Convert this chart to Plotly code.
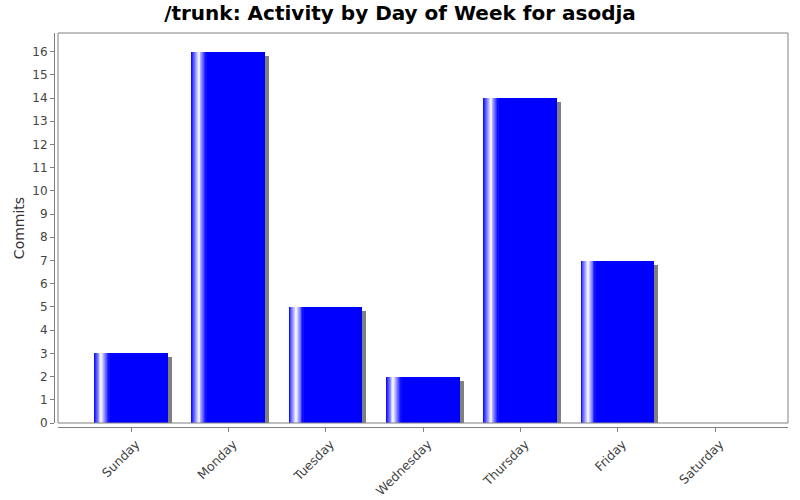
import plotly.graph_objects as go

days = ["Sunday", "Monday", "Tuesday", "Wednesday", "Thursday", "Friday", "Saturday"]
commits = [3, 16, 5, 2, 14, 7, 0]
y_ticks = list(range(0, 17))

# layout geometry (pixels)
W, H = 800, 500
ML, MR, MT, MB = 54, 12, 33, 73
GAP = 4                      # offset between axis lines and plot border
plot_w = W - ML - MR         # 734
plot_h = H - MT - MB         # 394
data_w = plot_w - GAP        # 730
data_h = plot_h - GAP        # 390

x_range = [-0.75, 6.75]
y_range = [0, 16.8]
px_per_x = data_w / (x_range[1] - x_range[0])
px_per_y = data_h / (y_range[1] - y_range[0])

BAR_W = 0.75
BLUE = (0, 0, 255)
shadow_dx = 4 / px_per_x
shadow_dy = 4 / px_per_y

fig = go.Figure()

# shadow
fig.add_trace(go.Bar(
    x=days, y=[max(v - shadow_dy, 0) for v in commits],
    width=BAR_W, offset=-BAR_W / 2 + shadow_dx,
    marker=dict(color="#808080", line=dict(width=0)),
    hoverinfo="skip", showlegend=False))

# main bar (solid)
fig.add_trace(go.Bar(
    x=days, y=commits, width=BAR_W, offset=-BAR_W / 2,
    marker=dict(color="rgb(0,0,255)", line=dict(width=0)),
    name="Commits", showlegend=False))

# gradient highlight stripes (blue -> white -> blue over first 20% of width)
n = 16
g_end = 0.2 * BAR_W
sw = g_end / n
for i in range(n):
    t = (i + 0.5) / n
    f = t / 0.5 if t < 0.5 else (1 - t) / 0.5
    r = int(round(BLUE[0] + (255 - BLUE[0]) * f))
    g = int(round(BLUE[1] + (255 - BLUE[1]) * f))
    fig.add_trace(go.Bar(
        x=days, y=commits, width=sw * 1.15, offset=-BAR_W / 2 + i * sw,
        marker=dict(color=f"rgb({r},{g},255)", line=dict(width=0)),
        hoverinfo="skip", showlegend=False))

fig.update_layout(
    width=W, height=H,
    margin=dict(l=ML, r=MR, t=MT, b=MB, pad=0, autoexpand=False),
    paper_bgcolor="white", plot_bgcolor="white",
    barmode="overlay", bargap=0,
    font=dict(family="DejaVu Sans", size=12, color="#444444"),
    title=dict(text="<b>/trunk: Activity by Day of Week for asodja</b>",
               x=0.5, xanchor="center", xref="container",
               y=1 - 13 / H, yanchor="middle", yref="container",
               font=dict(family="DejaVu Sans", size=20, color="black"),
               automargin=False),
    xaxis=dict(
        type="category", categoryorder="array", categoryarray=days,
        range=x_range, domain=[GAP / plot_w, 1],
        anchor="free", position=0, automargin=False,
        showline=True, linecolor="#808080", linewidth=1,
        ticks="outside", ticklen=4, tickcolor="#808080",
        tickangle=-45, tickfont=dict(size=12.5, color="#444444"),
        ticklabelshift=5,
        showgrid=False, zeroline=False, fixedrange=True),
    yaxis=dict(
        range=y_range, domain=[GAP / plot_h, 1],
        anchor="free", position=0, automargin=False,
        tickvals=y_ticks, ticktext=[str(v) for v in y_ticks],
        showline=True, linecolor="#808080", linewidth=1,
        ticks="outside", ticklen=4, tickcolor="#808080",
        tickfont=dict(size=12, color="#444444"),
        title=dict(text="Commits", font=dict(size=14, color="#333333"), standoff=3),
        showgrid=False, zeroline=False, fixedrange=True),
    shapes=[dict(type="rect", xref="x domain", yref="y domain",
                 x0=0, x1=1, y0=0, y1=1,
                 line=dict(color="#808080", width=1), layer="above")],
)

fig.write_html("out.html", config={"displayModeBar": False},
               post_script="document.body.style.margin='0';")
